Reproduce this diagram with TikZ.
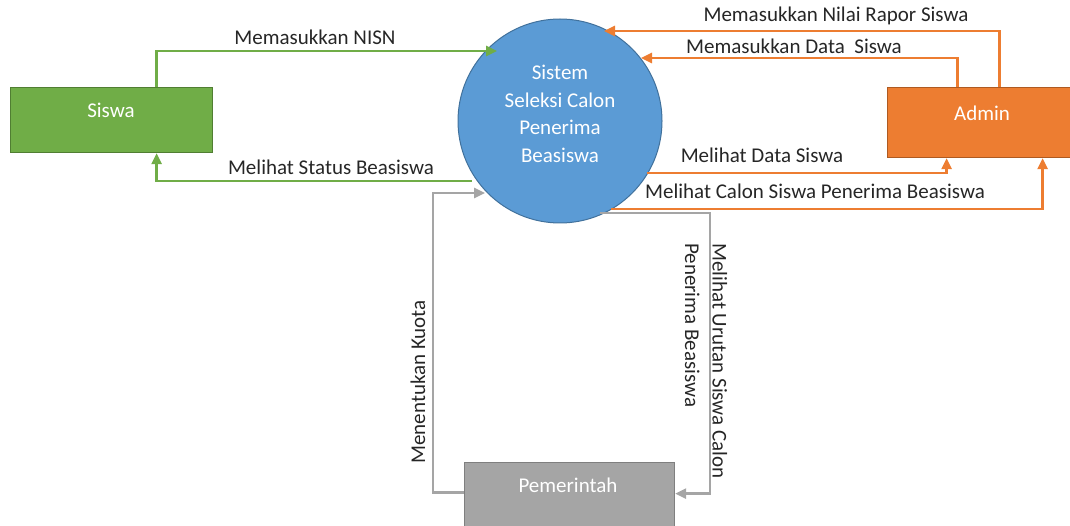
\documentclass[tikz,border=0pt]{standalone}
\usepackage{fontspec}
\setmainfont{Carlito}
\usetikzlibrary{arrows.meta,calc}
\definecolor{sgreen}{HTML}{70AD47}
\definecolor{sgreenD}{HTML}{507E32}
\definecolor{sorange}{HTML}{ED7D31}
\definecolor{sorangeD}{HTML}{AE5A21}
\definecolor{sblue}{HTML}{5B9BD5}
\definecolor{sblueD}{HTML}{41719C}
\definecolor{sgray}{HTML}{A5A5A5}
\definecolor{sgrayD}{HTML}{7F7F7F}
\definecolor{txt}{HTML}{262626}
\begin{document}
\begin{tikzpicture}[x=1pt,y=-1pt,
  every node/.style={font=\fontsize{21}{27.5}\selectfont},
  box/.style={rectangle, line width=1.2pt, inner sep=0pt, anchor=north west},
  boxtext/.style={text=white, inner sep=0pt},
  flow/.style={line width=2.5pt, -{Triangle[length=11pt,width=10pt]}},
  lbl/.style={text=txt, inner sep=0pt}]
\useasboundingbox (0,0) rectangle (1070,526);
\begin{scope}
\clip (0,0) rectangle (1070,526);
\node[box, fill=sgreen, draw=sgreenD, minimum width=202pt, minimum height=65pt] (siswa) at (10,87) {};
\node[box, fill=sorange, draw=sorangeD, minimum width=190pt, minimum height=70pt] (admin) at (887,87) {};
\node[box, fill=sgray, draw=sgrayD, minimum width=210pt, minimum height=66pt] (pem) at (464,462) {};
\node[circle, fill=sblue, draw=sblueD, line width=1pt, minimum size=204pt, inner sep=0pt] (sys) at (560,121) {};
\end{scope}
\node[boxtext] (siswaT) at (111,110) {Siswa};
\node[boxtext] (adminT) at (982,113) {Admin};
\node[boxtext] (pemT) at (568,485) {Pemerintah};
\node[boxtext, align=center] (sysT) at (560,114) {Sistem\\Seleksi Calon\\Penerima\\Beasiswa};
% points on the circle
\coordinate (c1) at ($(sys.center)+(-63,-70)$);
\coordinate (c2) at ($(sys.center)+(-88,60)$);
\coordinate (c3) at ($(sys.center)+(44,-90)$);
\coordinate (c4) at ($(sys.center)+(81,-63)$);
\coordinate (c5) at ($(sys.center)+(87,52)$);
\coordinate (c6) at ($(sys.center)+(51,88)$);
\coordinate (c7) at ($(sys.center)+(-75,72)$);
\coordinate (c8) at ($(sys.center)+(40,92)$);
% connectors
\draw[flow, sgreen] ([xshift=45pt]siswa.north) |- (c1);
\draw[flow, sgreen] (c2) -| ([xshift=45pt]siswa.south);
\draw[flow, sorange] ([xshift=17pt]admin.north) |- (c3);
\draw[flow, sorange] ([xshift=-25pt]admin.north) |- (c4);
\draw[flow, sorange] (c5) -| ([xshift=-36pt]admin.south);
\draw[flow, sorange] (c6) -| ([xshift=60pt]admin.south);
\draw[flow, sgray] ([yshift=3pt]pem.west) -- ++(-31,0) |- (c7);
\draw[flow, sgray] (c8) -- ++(110,0) |- ([yshift=2pt]pem.east);
% labels
\node[lbl] (l1) at (315,37) {Memasukkan NISN};
\node[lbl] (l2) at (331,167) {Melihat Status Beasiswa};
\node[lbl] (l3) at (836,16) {Memasukkan Nilai Rapor Siswa};
\node[lbl] (l4) at (794,46) {Memasukkan Data\ \ Siswa};
\node[lbl] (l5) at (762,155) {Melihat Data Siswa};
\node[lbl] (l6) at (815,191) {Melihat Calon Siswa Penerima Beasiswa};
\node[lbl, rotate=90] (l7) at (418,382) {Menentukan Kuota};
\node[lbl, rotate=-90, align=left] (l8) at (706,361) {Melihat Urutan Siswa Calon\\Penerima Beasiswa};
\end{tikzpicture}
\end{document}
